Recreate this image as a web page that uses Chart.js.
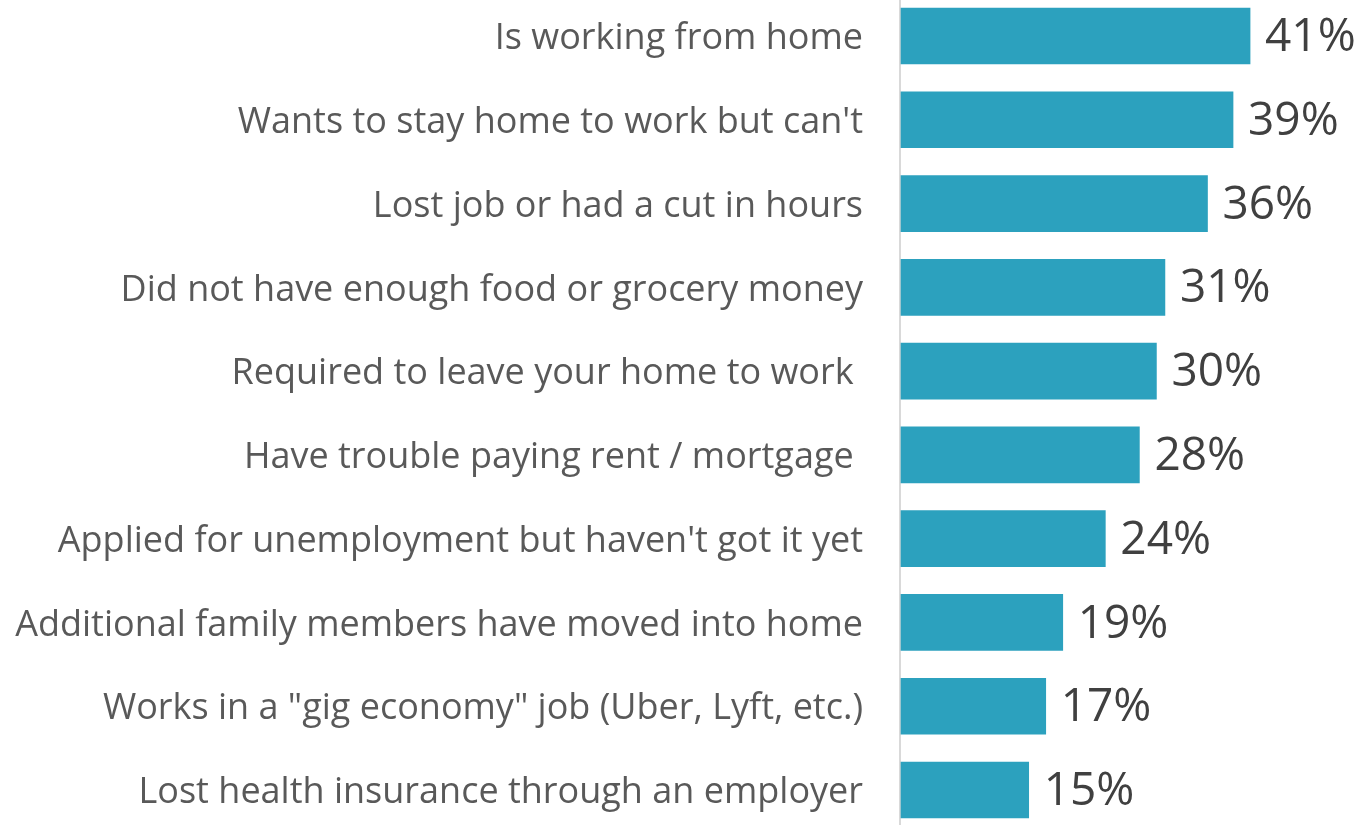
<!DOCTYPE html>
<html>
<head>
<meta charset="utf-8">
<script src="https://cdn.jsdelivr.net/npm/chart.js@4"></script>
<style>
  html, body { margin: 0; padding: 0; background: #fff; }
  #wrap { width: 1365px; height: 825px; position: relative; }
</style>
</head>
<body>
<div id="wrap"><canvas id="barChart"></canvas></div>
<script>
// Kategori (label sumbu) dan nilai persen
const categories = [
    "Is working from home",
    "Wants to stay home to work but can't",
    "Lost job or had a cut in hours",
    "Did not have enough food or grocery money",
    "Required to leave your home to work ",
    "Have trouble paying rent / mortgage ",
    "Applied for unemployment but haven't got it yet",
    "Additional family members have moved into home",
    "Works in a \"gig economy\" job (Uber, Lyft, etc.)",
    "Lost health insurance through an employer"
];
const percentValues = [41, 39, 36, 31, 30, 28, 24, 19, 17, 15];

const FONT = "'Open Sans', Lato, sans-serif";

// Garis sumbu vertikal abu-abu, sepanjang kanvas
const axisLine = {
    id: 'axisLine',
    beforeDatasetsDraw(chart) {
        const ctx = chart.ctx;
        const x = chart.chartArea.left - 1;
        ctx.save();
        ctx.strokeStyle = '#d9d9d9';
        ctx.lineWidth = 2;
        ctx.beginPath();
        ctx.moveTo(x, 0);
        ctx.lineTo(x, chart.height);
        ctx.stroke();
        ctx.restore();
    }
};

// Label nilai di ujung batang
const valueLabels = {
    id: 'valueLabels',
    afterDatasetsDraw(chart) {
        const ctx = chart.ctx;
        const meta = chart.getDatasetMeta(0);
        ctx.save();
        ctx.fillStyle = '#404040';
        ctx.font = '46px ' + FONT;
        ctx.textAlign = 'left';
        ctx.textBaseline = 'middle';
        meta.data.forEach((bar, i) => {
            ctx.fillText(percentValues[i] + '%', bar.x + 15, bar.y + 2);
        });
        ctx.restore();
    }
};

const ctx = document.getElementById('barChart').getContext('2d');
new Chart(ctx, {
    type: 'bar',
    data: {
        labels: categories,
        datasets: [{
            data: percentValues,
            backgroundColor: '#2ca1be',
            barThickness: 56,
            clip: false
        }]
    },
    options: {
        indexAxis: 'y',
        responsive: true,
        maintainAspectRatio: false,
        animation: false,
        layout: { padding: { top: 36, bottom: 35, left: 0, right: 0 } },
        plugins: {
            legend: { display: false },
            tooltip: { enabled: false }
        },
        scales: {
            x: {
                display: false,
                min: 0,
                max: 54.5
            },
            y: {
                offset: false,
                grid: { display: false, drawTicks: false },
                border: { display: false },
                ticks: {
                    color: '#595959',
                    padding: 38,
                    labelOffset: 3,
                    font: { family: FONT, size: 36 }
                },
                afterFit(scale) {
                    scale.width = 901;
                    scale.paddingTop = 0;
                    scale.paddingBottom = 0;
                }
            }
        }
    },
    plugins: [axisLine, valueLabels]
});
</script>
</body>
</html>
